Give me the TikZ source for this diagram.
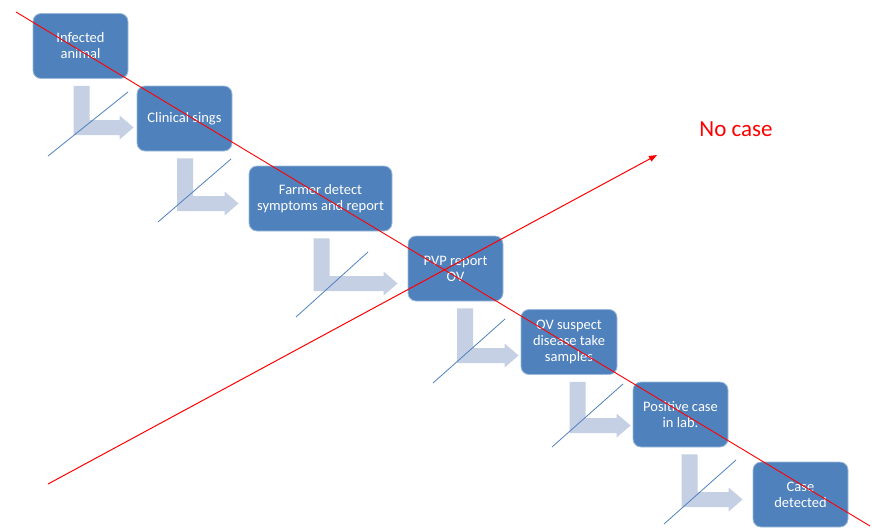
\documentclass[tikz,border=0pt]{standalone}
\usepackage{fontspec}
\setmainfont{Carlito}
\usetikzlibrary{arrows.meta,calc}
\definecolor{boxblue}{RGB}{79,129,189}
\definecolor{bendgray}{RGB}{197,208,228}

\begin{document}
\begin{tikzpicture}[x=1pt,y=-1pt,
        box/.style={fill=boxblue,draw=boxblue!55!white,line width=0.8pt,rounded corners=8pt,
            minimum width=95pt,minimum height=65pt,inner sep=2pt,align=center,
            text=white,font=\fontsize{14.5}{16}\selectfont},
        strike/.style={draw=boxblue,line width=0.8pt}]
    \useasboundingbox (0,0) rectangle (872,531);

    % the chain of steps
    \node[box] (infected) at (80.5,46) {Infected\\animal};
    \node[box] (clinical) at (184.5,118.5) {Clinical sings};
    \node[box,minimum width=143pt] (farmer) at (320.5,198.5) {Farmer detect\\symptoms and report};
    \node[box] (pvp) at (455.5,268.5) {PVP report\\OV};
    \node[box,minimum width=96pt] (suspect) at (569,342) {OV suspect\\disease take\\samples};
    \node[box] (positive) at (680.5,414.5) {Positive case\\in lab.};
    \node[box] (detected) at (800.5,494.5) {Case\\detected};

    % bent arrows between the steps
    \foreach \a/\b/\dx/\dy/\g in {infected/clinical/1pt/9pt/3pt,clinical/farmer/0.5pt/5pt/10pt,
            farmer/pvp/1pt/15pt/10pt,pvp/suspect/9.5pt/13.5pt/2pt,
            suspect/positive/8.5pt/11pt/2pt,positive/detected/9pt/5pt/10pt}
        {\fill[bendgray] let \p1=(\a.south), \p2=(\b.west) in
            (\x1+\dx-8pt,\y1-7pt) -- (\x1+\dx+8pt,\y1-7pt) -- (\x1+\dx+8pt,\y2-\dy+7.5pt)
            -- (\x2-\g-14pt,\y2-\dy+7.5pt) -- (\x2-\g-14pt,\y2-\dy+12pt) -- (\x2-\g,\y2-\dy)
            -- (\x2-\g-14pt,\y2-\dy-12pt) -- (\x2-\g-14pt,\y2-\dy-7.5pt)
            -- (\x1+\dx-8pt,\y2-\dy-7.5pt) -- cycle;}

    % thin blue strokes over the arrows
    \foreach \x/\y/\u/\v in {48/156/128/92,158/222/231/159,296/317/368/252,
            433/383/505/319,552/447/623/384,664/524/736/460}
        {\draw[strike] (\x,\y) -- (\u,\v);}

    % red marks
    \coordinate (cut start) at (16,12);
    \coordinate (cut end) at (870,526);
    \coordinate (way start) at (48,484);
    \coordinate (way end) at (657,155);
    \draw[red,line width=0.9pt] (cut start) -- (cut end);
    \draw[red,line width=1pt,-{Triangle[length=8pt,width=6pt]}] (way start) -- (way end);
    \node[text=red,font=\fontsize{23}{27}\selectfont] (nocase) at (736,129) {No case};
\end{tikzpicture}
\end{document}
